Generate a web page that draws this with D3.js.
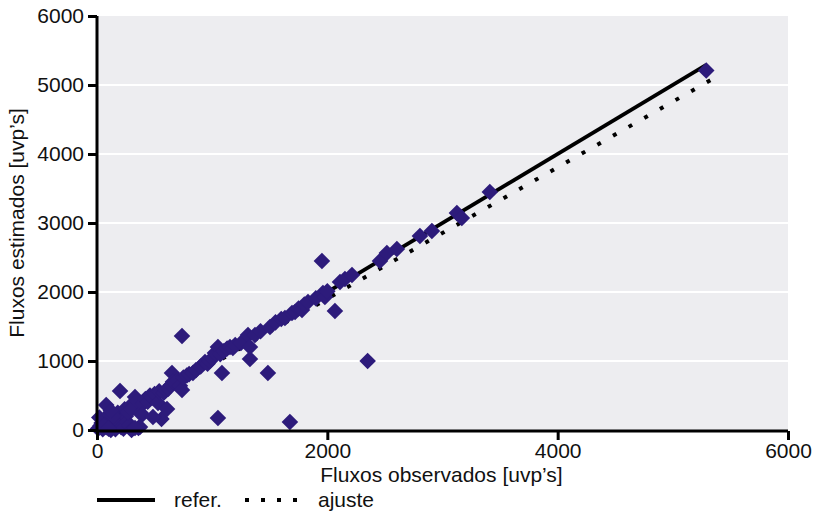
<!DOCTYPE html>
<html>
<head>
<meta charset="utf-8">
<script src="https://cdn.jsdelivr.net/npm/d3@7"></script>
<style>
  body { margin: 0; background: #fff; }
  svg { display: block; font-family: "Liberation Sans", Arial, Helvetica, sans-serif; }
</style>
</head>
<body>
<svg id="chart" width="813" height="511"></svg>
<script>
// ---- data ----
const observed = [
  10,30,50,60,80,90,100,110,120,130,150,160,170,180,200,200,210,230,240,250,260,280,290,300,80,20,40,140,120,60,100,270,300,
  330,350,360,380,400,420,440,460,480,500,530,540,560,580,600,608,620,640,651,660,680,700,720,738,738,750,780,800,
  390,486,373,330,
  833,860,900,938,960,980,1000,1024,1050,1050,1070,1085,1100,1130,1155,1180,1200,1250,1311,1328,1328,1372,
  1420,1484,1502,1550,1600,1632,1675,1693,1720,1750,1780,1800,1832,1900,1953,1962,1979,2000,2066,2110,2153,2214,2350,
  2457,2517,2604,2804,2908,3125,3168,3411,5290
];
const estimated = [
  20,60,10,150,40,200,90,30,0,130,60,10,170,250,565,100,40,20,300,200,120,60,350,0,362,180,100,200,280,60,20,260,300,
  478,420,30,246,380,450,410,500,470,520,391,560,160,540,580,304,600,650,826,700,680,720,640,580,1362,760,790,810,
  217,188,43,30,
  826,870,920,986,960,1000,1040,1116,1203,174,1100,826,1140,1180,1203,1190,1230,1260,1377,1203,1029,1377,
  1430,826,1493,1560,1610,1623,116,1696,1710,1760,1739,1820,1855,1910,2449,1986,1928,2010,1725,2145,2188,2246,1000,
  2449,2565,2623,2812,2884,3145,3072,3449,5210
];
const xTicks = [0, 2000, 4000, 6000];
const yTicks = [0, 1000, 2000, 3000, 4000, 5000, 6000];
const refLine = [[0, 0], [5290, 5290]];
const fitLine = [[0, 0], [5380, 5120]];
const xTitle = "Fluxos observados [uvp\u2019s]";
const yTitle = "Fluxos estimados [uvp\u2019s]";
const legendLabels = ["refer.", "ajuste"];

// ---- chart ----
const svg = d3.select("#chart");
const x = d3.scaleLinear().domain([0, 6000]).range([97, 788]);
const y = d3.scaleLinear().domain([0, 6000]).range([430, 16]);
const FS = "21px";

// plot background
svg.append("rect")
  .attr("x", x(0)).attr("y", y(6000))
  .attr("width", x(6000) - x(0)).attr("height", y(0) - y(6000))
  .attr("fill", "#ededf0");

// gridlines
svg.append("g").selectAll("line")
  .data(yTicks.filter(d => d > 0 && d < 6000))
  .join("line")
  .attr("x1", x(0)).attr("x2", x(6000))
  .attr("y1", d => y(d)).attr("y2", d => y(d))
  .attr("stroke", "#ffffff").attr("stroke-width", 2);

const line = d3.line().x(d => x(d[0])).y(d => y(d[1]));

// reference line
svg.append("path").datum(refLine).attr("d", line)
  .attr("fill", "none").attr("stroke", "#000").attr("stroke-width", 3.8);

// fit line (dotted)
svg.append("path").datum(fitLine).attr("d", line)
  .attr("fill", "none").attr("stroke", "#000").attr("stroke-width", 4)
  .attr("stroke-dasharray", "4,14");

// points
const pts = observed.map((o, i) => [o, estimated[i]]);
const diamond = d3.symbol().type(d3.symbolDiamond2).size(175);
svg.append("g").selectAll("path")
  .data(pts)
  .join("path")
  .attr("d", diamond)
  .attr("transform", d => `translate(${x(d[0])},${y(d[1])})`)
  .attr("fill", "#2d1b7b");

// axes
const xAxis = svg.append("g").attr("transform", `translate(0,${y(0) + 1})`)
  .call(d3.axisBottom(x).tickValues(xTicks).tickSize(9).tickPadding(3).tickFormat(d3.format("d")));
const yAxis = svg.append("g").attr("transform", `translate(${x(0)},0)`)
  .call(d3.axisLeft(y).tickValues(yTicks).tickSize(9).tickPadding(4).tickFormat(d3.format("d")));
[xAxis, yAxis].forEach(a => {
  a.select(".domain").attr("stroke", "#000").attr("stroke-width", 3);
  a.selectAll(".tick line").attr("stroke", "#000").attr("stroke-width", 3);
  a.selectAll(".tick text").attr("fill", "#111").style("font-size", FS)
    .style("font-family", "'Liberation Sans', Arial, sans-serif");
});
xAxis.select(".domain").attr("d", `M${x(0) - 1.5},0H${x(6000)}`);
yAxis.select(".domain").attr("d", `M0,${y(6000)}V${y(0) + 2.5}`);

// titles
svg.append("text")
  .attr("x", (x(0) + x(6000)) / 2 - 1).attr("y", 482)
  .attr("text-anchor", "middle").attr("fill", "#111")
  .style("font-size", FS).text(xTitle);
svg.append("text")
  .attr("transform", `translate(24,${(y(0) + y(6000)) / 2}) rotate(-90)`)
  .attr("text-anchor", "middle").attr("fill", "#111")
  .style("font-size", FS).text(yTitle);

// legend
const lg = svg.append("g");
lg.append("line").attr("x1", 97).attr("x2", 155).attr("y1", 500).attr("y2", 500)
  .attr("stroke", "#000").attr("stroke-width", 3.8);
lg.append("text").attr("x", 174).attr("y", 507).attr("fill", "#111")
  .style("font-size", FS).text(legendLabels[0]);
lg.append("line").attr("x1", 245).attr("x2", 300).attr("y1", 500).attr("y2", 500)
  .attr("stroke", "#000").attr("stroke-width", 4).attr("stroke-dasharray", "4,12");
lg.append("text").attr("x", 318).attr("y", 507).attr("fill", "#111")
  .style("font-size", FS).text(legendLabels[1]);
</script>
</body>
</html>
